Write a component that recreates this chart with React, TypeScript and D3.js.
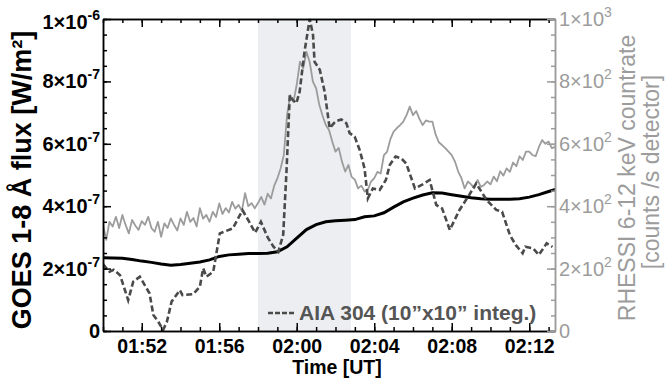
import React, { useEffect, useRef } from 'react';
import * as d3 from 'd3';

const WIDTH = 667;
const HEIGHT = 381;
const FONT = '"Liberation Sans", Arial, sans-serif';

// time origin 01:50 UT, everything else in minutes after it
const START = Date.UTC(2011, 1, 24, 1, 50);
const END_MIN = 23.33;
const at = (m: number) => new Date(START + m * 60000);

// GOES 1-8 A flux, units of 1e-7 W/m2, one value per 30 s
const goesFlux = [
  2.35, 2.34, 2.33, 2.29, 2.24, 2.2, 2.15, 2.11, 2.13, 2.17, 2.21, 2.28,
  2.39, 2.44, 2.46, 2.48, 2.48, 2.49, 2.54, 2.7, 2.98, 3.25, 3.41, 3.5,
  3.53, 3.55, 3.57, 3.66, 3.69, 3.79, 3.97, 4.14, 4.26, 4.36, 4.43, 4.42,
  4.37, 4.32, 4.27, 4.24, 4.22, 4.22, 4.22, 4.24, 4.29, 4.37, 4.47, 4.56,
];

// RHESSI 6-12 keV counts, one value per 10 s
const rhessiCounts = [
  340, 292, 350, 335, 366, 330, // 01:50
  372, 340, 313, 356, 338, 324,
  352, 340, 366, 330, 318, 350, // 01:52
  302, 345, 330, 361, 340, 322,
  361, 340, 382, 350, 362, 335, // 01:54
  394, 360, 372, 350, 382, 365,
  409, 375, 394, 380, 414, 392, // 01:56
  404, 385, 442, 400, 410, 393,
  410, 430, 405, 440, 425, 465, // 01:58
  489, 521, 564, 692, 756, 735,
  790, 863, 842, 895, 863, 799, // 02:00
  778, 724, 690, 660, 644, 607,
  575, 587, 543, 511, 532, 494, // 02:02
  485, 457, 466, 447, 452, 479,
  490, 510, 505, 564, 575, 615, // 02:04
  639, 650, 660, 671, 692, 719,
  692, 705, 680, 660, 675, 671, // 02:06
  671, 630, 605, 596, 586, 575,
  564, 543, 511, 490, 457, 479, // 02:08
  470, 457, 484, 462, 468, 479,
  470, 495, 480, 512, 498, 521, // 02:10
  510, 540, 528, 560, 548, 575,
  575, 564, 560, 590, 612, 600, // 02:12
  607, 586, 590,
];

// AIA 304 light curve (arbitrary, drawn on the GOES scale)
const aiaMinutes = [
  0, 0.34, 0.55, 0.88, 1.3, 1.56, 1.9, 2.4, 2.6, 2.85, 3.1, 3.3, 3.54, 3.97,
  4.1, 4.65, 5.0, 5.17, 5.34, 5.69, 6.03, 6.7, 7.2, 7.5, 7.85, 8.15, 8.5,
  8.8, 9.05, 9.3, 9.47, 9.64, 9.8, 9.98, 10.15, 10.4, 10.67, 10.84, 10.92,
  11.19, 11.44, 11.7, 12.0, 12.3, 12.56, 12.73, 12.99, 13.25, 13.5, 13.67,
  13.93, 14.28, 14.6, 14.8, 15.1, 15.4, 15.65, 16.1, 16.5, 16.86, 17.2,
  17.5, 17.9, 18.4, 18.9, 19.26, 19.8, 20.3, 20.6, 21.0, 21.3, 21.66, 21.8,
  22.2, 22.5, 22.9, 23.2,
];
const aiaFlux = [
  2.14, 1.9, 1.96, 1.79, 0.99, 1.58, 1.74, 1.21, 0.51, 0.3, 0.03, 0.3, 0.94,
  1.31, 1.15, 1.18, 1.42, 2.01, 1.74, 1.9, 3.13, 3.29, 3.87, 3.55, 3.15,
  3.5, 3.0, 2.7, 2.54, 3.08, 5.1, 7.56, 7.4, 7.3, 7.67, 8.95, 10.0, 9.49,
  8.63, 8.37, 7.67, 6.5, 6.72, 6.78, 6.66, 6.34, 6.23, 5.8, 5.21, 4.25,
  4.57, 4.52, 4.84, 5.32, 5.59, 5.53, 5.37, 4.57, 4.7, 4.84, 4.04, 3.93,
  3.24, 3.88, 4.36, 4.73, 4.2, 3.88, 3.82, 3.08, 2.76, 2.49, 2.7, 2.65,
  2.44, 2.81, 2.7,
];

const shadeMinutes = [8, 12.8];

const leftTicks = [0, 2e-7, 4e-7, 6e-7, 8e-7, 1e-6];
const leftLabels = [['0', ''], ['2×10', '-7'], ['4×10', '-7'], ['6×10', '-7'], ['8×10', '-7'], ['1×10', '-6']];
const rightTicks = [0, 200, 400, 600, 800, 1000];
const rightLabels = [['0', ''], ['2×10', '2'], ['4×10', '2'], ['6×10', '2'], ['8×10', '2'], ['1×10', '3']];

const App: React.FC = () => {
  const ref = useRef<SVGSVGElement | null>(null);

  useEffect(() => {
    const svg = d3.select(ref.current);
    svg.selectAll('*').remove();

    const left = 103, right = 555, top = 19, bottom = 331;
    const x = d3.scaleUtc().domain([at(0), at(END_MIN)]).range([left, right]);
    const yL = d3.scaleLinear().domain([0, 1e-6]).range([bottom, top]);
    const yR = d3.scaleLinear().domain([0, 1000]).range([bottom, top]);

    svg.append('defs').append('clipPath').attr('id', 'plot')
      .append('rect').attr('x', left).attr('y', top - 2)
      .attr('width', right - left).attr('height', bottom - top + 2);

    // shaded interval
    svg.append('rect')
      .attr('x', x(at(shadeMinutes[0])))
      .attr('y', top)
      .attr('width', x(at(shadeMinutes[1])) - x(at(shadeMinutes[0])))
      .attr('height', bottom - top)
      .attr('fill', '#eceef1');

    const plot = svg.append('g').attr('clip-path', 'url(#plot)');

    const rhessiLine = d3.line<number>()
      .x((_, i) => x(at(i / 6)))
      .y(d => yR(d));
    plot.append('path')
      .datum(rhessiCounts)
      .attr('fill', 'none')
      .attr('stroke', '#9c9c9c')
      .attr('stroke-width', 1.8)
      .attr('stroke-linejoin', 'round')
      .attr('d', rhessiLine);

    const goesLine = d3.line<number>()
      .x((_, i) => x(at(i * 0.5)))
      .y(d => yL(d * 1e-7));
    plot.append('path')
      .datum(goesFlux)
      .attr('fill', 'none')
      .attr('stroke', '#000')
      .attr('stroke-width', 3)
      .attr('d', goesLine);

    const aiaLine = d3.line<number>()
      .x((_, i) => x(at(aiaMinutes[i])))
      .y(d => yL(d * 1e-7));
    plot.append('path')
      .datum(aiaFlux)
      .attr('fill', 'none')
      .attr('stroke', '#4a4a4a')
      .attr('stroke-width', 2.6)
      .attr('stroke-dasharray', '6,3')
      .attr('d', aiaLine);

    const style = (g: any, color: string) => {
      g.attr('font-family', FONT);
      g.selectAll('path,line').attr('stroke', color).attr('stroke-width', 1.5);
    };

    // bottom axis
    svg.append('g').attr('transform', `translate(0,${bottom})`)
      .call(d3.axisBottom(x).ticks(d3.utcMinute.every(1)).tickSize(-4).tickSizeOuter(0).tickFormat(() => ''))
      .call(g => style(g, '#000'));
    svg.append('g').attr('transform', `translate(0,${bottom})`)
      .call(d3.axisBottom(x).ticks(d3.utcMinute.every(4)).tickSize(-8).tickSizeOuter(0).tickPadding(8)
        .tickFormat(d3.utcFormat('%H:%M') as any))
      .call(g => style(g, '#000'))
      .call(g => g.selectAll('text').attr('font-size', 19.5).attr('font-weight', 'bold').attr('fill', '#000'));

    // top axis
    svg.append('g').attr('transform', `translate(0,${top})`)
      .call(d3.axisTop(x).ticks(d3.utcMinute.every(1)).tickSize(-4).tickSizeOuter(0).tickFormat(() => ''))
      .call(g => style(g, '#000'));
    svg.append('g').attr('transform', `translate(0,${top})`)
      .call(d3.axisTop(x).ticks(d3.utcMinute.every(4)).tickSize(-8).tickSizeOuter(0).tickFormat(() => ''))
      .call(g => style(g, '#000'));

    // right axis
    svg.append('g').attr('transform', `translate(${right},0)`)
      .call(d3.axisRight(yR).tickValues(d3.range(0, 1001, 50)).tickSize(-4).tickSizeOuter(0).tickFormat(() => ''))
      .call(g => style(g, '#9c9c9c'));
    svg.append('g').attr('transform', `translate(${right},0)`)
      .call(d3.axisRight(yR).tickValues(rightTicks).tickSize(-8).tickSizeOuter(0).tickFormat(() => ''))
      .call(g => style(g, '#9c9c9c'));

    // left axis
    svg.append('g').attr('transform', `translate(${left},0)`)
      .call(d3.axisLeft(yL).tickValues(d3.range(0, 20.5).map(k => k * 0.5e-7)).tickSize(-4).tickSizeOuter(0).tickFormat(() => ''))
      .call(g => style(g, '#000'));
    svg.append('g').attr('transform', `translate(${left},0)`)
      .call(d3.axisLeft(yL).tickValues(leftTicks).tickSize(-8).tickSizeOuter(0).tickFormat(() => ''))
      .call(g => style(g, '#000'));

    const leftText = svg.append('g')
      .attr('font-family', FONT).attr('font-size', 20).attr('font-weight', 'bold')
      .attr('text-anchor', 'end').attr('fill', '#000')
      .selectAll('text').data(leftTicks).join('text')
      .attr('x', 100)
      .attr('y', (d, i) => yL(d) + (i === leftTicks.length - 1 ? 10 : 7));
    leftText.append('tspan').text((_, i) => leftLabels[i][0]);
    leftText.append('tspan').attr('font-size', 14).attr('dy', -9).text((_, i) => leftLabels[i][1]);

    const rightText = svg.append('g')
      .attr('font-family', FONT).attr('font-size', 20)
      .attr('text-anchor', 'start').attr('fill', '#9c9c9c')
      .selectAll('text').data(rightTicks).join('text')
      .attr('x', 559)
      .attr('y', d => yR(d) + 7);
    rightText.append('tspan').text((_, i) => rightLabels[i][0]);
    rightText.append('tspan').attr('font-size', 14).attr('dy', -9).text((_, i) => rightLabels[i][1]);

    // axis titles
    svg.append('text')
      .attr('transform', 'translate(337,374)')
      .attr('text-anchor', 'middle')
      .attr('font-family', FONT).attr('font-size', 19.5).attr('font-weight', 'bold')
      .text('Time [UT]');

    svg.append('text')
      .attr('transform', 'translate(31,180) rotate(-90)')
      .attr('text-anchor', 'middle')
      .attr('font-family', FONT).attr('font-size', 27).attr('font-weight', 'bold')
      .text('GOES 1-8 Å flux [W/m²]');

    svg.append('text')
      .attr('transform', 'translate(635,178) rotate(-90)')
      .attr('text-anchor', 'middle')
      .attr('font-family', FONT).attr('font-size', 23).attr('fill', '#9c9c9c')
      .text('RHESSI 6-12 keV countrate');
    svg.append('text')
      .attr('transform', 'translate(659,172) rotate(-90)')
      .attr('text-anchor', 'middle')
      .attr('font-family', FONT).attr('font-size', 23).attr('fill', '#9c9c9c')
      .text('[counts /s detector]');

    // legend
    svg.append('line')
      .attr('x1', 268).attr('x2', 295).attr('y1', 313).attr('y2', 313)
      .attr('stroke', '#4a4a4a').attr('stroke-width', 2.6).attr('stroke-dasharray', '5,2');
    svg.append('text')
      .attr('x', 299).attr('y', 320)
      .attr('font-family', FONT).attr('font-size', 21).attr('font-weight', 'bold')
      .attr('fill', '#555')
      .text('AIA 304 (10”x10” integ.)');
  }, []);

  return (
    <div style={{ position: 'absolute', left: 0, top: 0 }}>
      <svg ref={ref} width={WIDTH} height={HEIGHT} style={{ display: 'block', background: '#fff' }} />
    </div>
  );
};

export default App;
